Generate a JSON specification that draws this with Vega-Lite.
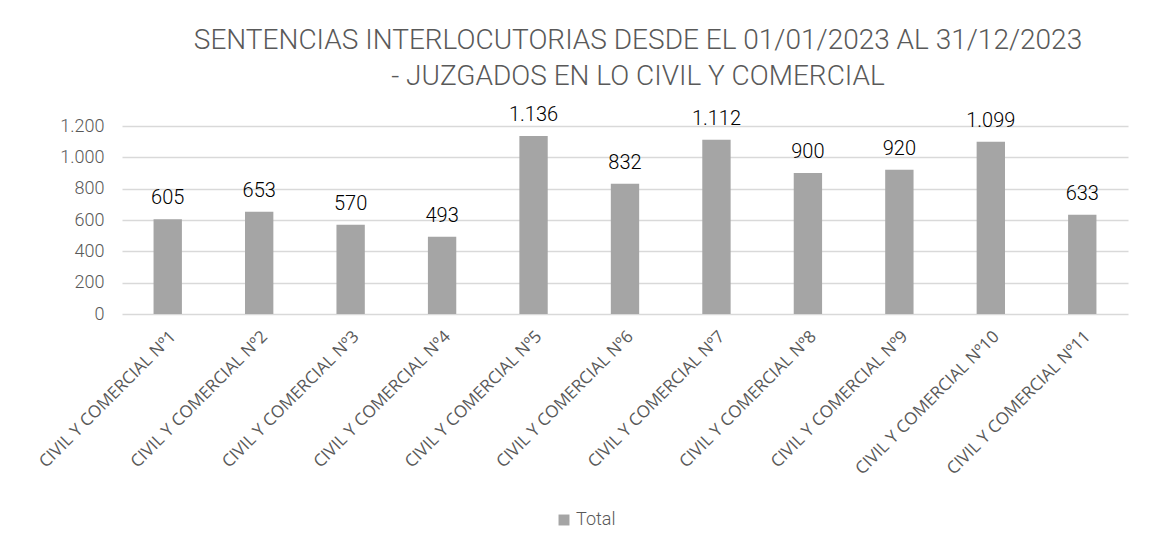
{
  "$schema": "https://vega.github.io/schema/vega-lite/v6.json",
  "width": 1006,
  "height": 188,
  "autosize": {"type": "none"},
  "padding": {"left": 122, "top": 126, "right": 29, "bottom": 237},
  "background": "white",
  "config": {
    "locale": {"number": {"decimal": ",", "thousands": ".", "grouping": [3], "currency": ["$", ""]}},
    "view": {"stroke": null},
    "font": "Roboto"
  },
  "title": {
    "text": ["SENTENCIAS INTERLOCUTORIAS DESDE EL 01/01/2023 AL 31/12/2023", "- JUZGADOS EN LO CIVIL Y COMERCIAL"],
    "font": "Roboto",
    "fontSize": 28,
    "fontWeight": 300,
    "color": "#595959",
    "lineHeight": 36,
    "anchor": "middle",
    "dx": 13,
    "offset": 14
  },
  "data": {
    "values": [
      {"juzgado": "CIVIL Y COMERCIAL Nº1", "total": 605, "serie": "Total"},
      {"juzgado": "CIVIL Y COMERCIAL Nº2", "total": 653, "serie": "Total"},
      {"juzgado": "CIVIL Y COMERCIAL Nº3", "total": 570, "serie": "Total"},
      {"juzgado": "CIVIL Y COMERCIAL Nº4", "total": 493, "serie": "Total"},
      {"juzgado": "CIVIL Y COMERCIAL Nº5", "total": 1136, "serie": "Total"},
      {"juzgado": "CIVIL Y COMERCIAL Nº6", "total": 832, "serie": "Total"},
      {"juzgado": "CIVIL Y COMERCIAL Nº7", "total": 1112, "serie": "Total"},
      {"juzgado": "CIVIL Y COMERCIAL Nº8", "total": 900, "serie": "Total"},
      {"juzgado": "CIVIL Y COMERCIAL Nº9", "total": 920, "serie": "Total"},
      {"juzgado": "CIVIL Y COMERCIAL Nº10", "total": 1099, "serie": "Total"},
      {"juzgado": "CIVIL Y COMERCIAL Nº11", "total": 633, "serie": "Total"}
    ]
  },
  "encoding": {
    "x": {
      "field": "juzgado",
      "type": "nominal",
      "sort": null,
      "scale": {"paddingInner": 0.69, "paddingOuter": 0.345},
      "axis": {
        "title": null,
        "labelAngle": -45,
        "labelFont": "Open Sans",
        "labelFontSize": 17,
        "labelColor": "#595959",
        "labelPadding": 14,
        "ticks": false,
        "domain": false,
        "labelLimit": 300
      }
    },
    "y": {
      "field": "total",
      "type": "quantitative",
      "scale": {"domain": [0, 1200]},
      "axis": {
        "title": null,
        "values": [0, 200, 400, 600, 800, 1000, 1200],
        "format": ",d",
        "labelFont": "Roboto",
        "labelFontSize": 18,
        "labelFontWeight": 300,
        "labelColor": "#595959",
        "labelPadding": 18,
        "ticks": false,
        "domain": false,
        "gridColor": "#d9d9d9",
        "gridWidth": 1.3
      }
    }
  },
  "layer": [
    {
      "mark": {"type": "bar"},
      "encoding": {
        "color": {
          "field": "serie",
          "type": "nominal",
          "scale": {"range": ["#a5a5a5"]},
          "legend": {
            "title": null,
            "orient": "none",
            "legendX": 433,
            "legendY": 385,
            "symbolType": "square",
            "symbolSize": 120,
            "symbolStrokeWidth": 0,
            "labelFont": "Roboto",
            "labelFontSize": 18,
            "labelFontWeight": 300,
            "labelColor": "#595959",
            "labelOffset": 3
          }
        }
      }
    },
    {
      "mark": {"type": "text", "baseline": "alphabetic", "dy": -15, "font": "Roboto", "fontSize": 20, "fontWeight": 300, "color": "#000000"},
      "encoding": {
        "text": {"field": "total", "type": "quantitative", "format": ",d"}
      }
    }
  ]
}
